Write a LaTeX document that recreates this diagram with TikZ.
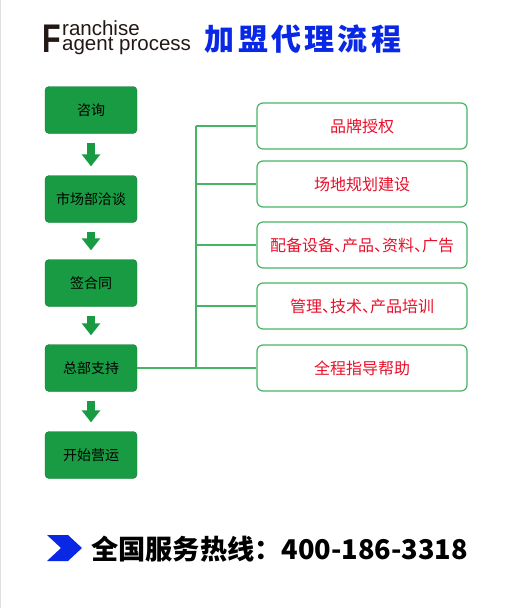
\documentclass[tikz,border=0pt]{standalone}
\usepackage{fontspec}
\setmainfont{Liberation Sans}
\newfontfamily\cjk{Noto Sans CJK SC}
\newfontfamily\cjktitle[LetterSpace=11]{Noto Sans CJK SC}
\usetikzlibrary{arrows.meta}
\definecolor{stepgreen}{RGB}{24,155,66}
\definecolor{linegreen}{RGB}{70,180,100}
\definecolor{textred}{RGB}{232,16,42}
\definecolor{titleblue}{RGB}{8,40,230}
\definecolor{darkbrown}{RGB}{35,24,21}
\newcommand\halfdun{\makebox[0.5em][l]{、}}

\begin{document}
\begin{tikzpicture}[x=1pt,y=-1pt,>=Stealth]
  \tikzstyle{stepbox}=[fill=stepgreen, draw=stepgreen!80!black, line width=0.4pt, rounded corners=4pt, minimum width=92pt, minimum height=47pt, font=\cjk\fontsize{14}{16}\selectfont, text=black]
  \tikzstyle{itembox}=[draw=linegreen, line width=1.2pt, fill=white, rounded corners=6pt, minimum width=210pt, minimum height=46pt, font=\cjk\fontsize{16}{18}\selectfont, text=textred]
  \tikzstyle{bigarrow}=[draw=stepgreen, line width=8pt, -{Triangle[width=18pt,length=12pt]}, shorten <=9pt, shorten >=9pt]
  \tikzstyle{link}=[draw=linegreen, line width=1.2pt]

  \useasboundingbox (0,0) rectangle (517,608);
  \fill[white] (0,0) rectangle (517,608);
  \draw[black!12, line width=1pt] (0.5,0) -- (0.5,608);

  % title
  \node[anchor=base west, inner sep=0pt, text=darkbrown, font=\fontsize{40}{40}\selectfont\bfseries, xscale=0.76, transform shape] (bigf) at (42,52) {F};
  \node[anchor=base west, inner sep=0pt, text=darkbrown, align=left, font=\fontsize{20.5}{15}\selectfont] (subtitle) at (62,50) {ranchise\\agent process};
  \node[text=titleblue, font=\cjktitle\bfseries\fontsize{30}{32}\selectfont] (title) at (303,39) {加盟代理流程};

  % flow
  \node[stepbox] (ask) at (91,110) {咨询};
  \node[stepbox] (talk) at (91,199) {市场部洽谈};
  \node[stepbox] (sign) at (91,283) {签合同};
  \node[stepbox] (hq) at (91,368) {总部支持};
  \node[stepbox] (open) at (91,455) {开始营运};

  \draw[bigarrow] (ask) -- (talk);
  \draw[bigarrow] (talk) -- (sign);
  \draw[bigarrow] (sign) -- (hq);
  \draw[bigarrow] (hq) -- (open);

  % support items
  \node[itembox] (brand) at (362,126) {品牌授权};
  \node[itembox] (site) at (362,184) {场地规划建设};
  \node[itembox] (equip) at (362,245) {配备设备\halfdun 产品\halfdun 资料\halfdun 广告};
  \node[itembox] (train) at (362,306) {管理\halfdun 技术\halfdun 产品培训};
  \node[itembox] (guide) at (362,368) {全程指导帮助};

  \coordinate (bustop) at (196,126);
  \coordinate (busend) at (196,368);
  \draw[link] (hq.east) -- (guide.west);
  \draw[link] (bustop) -- (busend);
  \foreach \n in {brand,site,equip,train}
    \draw[link] (\n.west) -- (\n.west -| bustop);

  % hotline
  \fill[titleblue] (47,535) -- (68,535) -- (82,548) -- (68,561) -- (47,561) -- (61,548) -- cycle;
  \node[anchor=west, inner sep=0pt, font=\cjk\bfseries\fontsize{27.2}{30}\selectfont] (hotline) at (91,549) {全国服务热线：400-186-3318};
\end{tikzpicture}
\end{document}
